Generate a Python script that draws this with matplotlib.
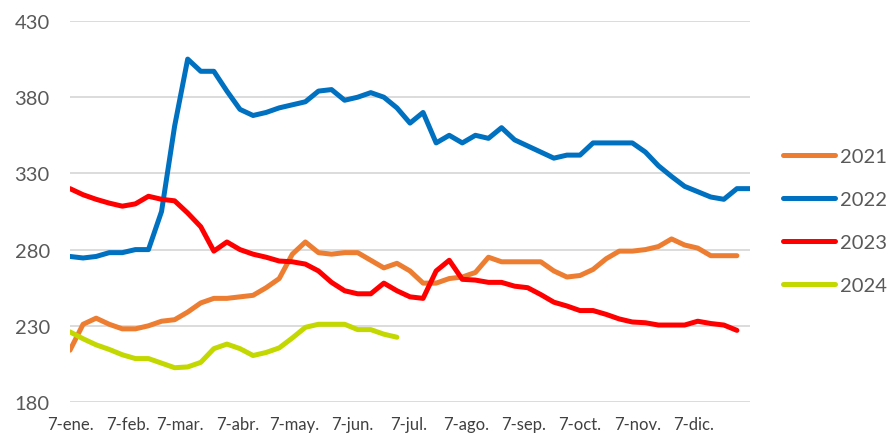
import matplotlib
matplotlib.use("Agg")
import matplotlib.pyplot as plt
import pandas as pd
import numpy as np

plt.rcParams['font.family'] = ['Lato', 'DejaVu Sans']

years = ['2021', '2022', '2023', '2024']
colors = ['#ED7D31', '#0070C0', '#FF0000', '#C3D800']

s2021 = [214, 231, 235, 231, 228, 228, 230, 233, 234, 239, 245, 248, 248, 249, 250, 255, 261,
         277, 285, 278, 277, 278, 278, 273, 268, 271, 266, 258, 258, 261, 262, 265, 275, 272,
         272, 272, 272, 266, 262, 263, 267, 274, 279, 279, 280, 282, 287, 283, 281, 276, 276, 276]
s2022 = [275.5, 274.5, 275.5, 278, 278, 280, 280, 305, 361, 405, 397, 397, 384, 372, 368, 370,
         373, 375, 377, 384, 385, 378, 380, 383, 380, 373, 363, 370, 350, 355, 350, 355, 353,
         360, 352, 348, 344, 340, 342, 342, 350, 350, 350, 350, 344, 335, 328, 321.5, 318, 314.5,
         313, 320, 320]
s2023 = [320, 316, 313, 310.5, 308.5, 310, 315, 313, 312, 304, 295, 279, 285, 280, 277, 275,
         272.5, 272, 270.5, 266, 258.5, 253, 251, 251, 258, 253, 249, 248, 266, 273, 260.5, 260,
         258.5, 258.5, 256, 255, 250.5, 245.5, 243, 240, 240, 237.5, 234.5, 232.5, 232, 230.5,
         230.5, 230.5, 233, 231.5, 230.5, 227]
s2024 = [226, 221.5, 217.5, 214.5, 211, 208.5, 208.5, 205.5, 202.5, 203, 206, 215, 218, 215,
         210.5, 212.5, 215.5, 222, 229, 231, 231, 231, 227.5, 227.5, 224.5, 222.5]
series = [s2021, s2022, s2023, s2024]

tick_labels = ['7-ene.', '7-feb.', '7-mar.', '7-abr.', '7-may.', '7-jun.', '7-jul.',
               '7-ago.', '7-sep.', '7-oct.', '7-nov.', '7-dic.']
ytick_values = [180, 230, 280, 330, 380, 430]

dates = pd.date_range('2021-01-07', periods=53, freq='7D')
tick_dates = pd.date_range('2021-01-01', periods=12, freq='MS') + pd.Timedelta(days=6)

fig = plt.figure(figsize=(8.93, 4.35), dpi=100)
ax = fig.add_axes([70/893, 1-403/435, 680/893, 381/435])

for name, vals, c in zip(years, series, colors):
    ax.plot(dates[:len(vals)], vals, color=c, lw=3.6, label=name,
            solid_joinstyle='round', solid_capstyle='round')

ax.set_ylim(180, 430)
ax.set_xlim(dates[0], dates[-1])
ax.set_yticks(ytick_values)
ax.set_xticks(tick_dates)
ax.set_xticklabels(tick_labels)
ax.grid(axis='y', color='#D9D9D9', lw=1.3)
ax.set_axisbelow(True)
for sp in ax.spines.values():
    sp.set_visible(False)
ax.tick_params(axis='y', length=0, pad=14.5, labelsize=14.5, labelcolor='#595959')
ax.tick_params(axis='x', length=0, pad=10, labelsize=12, labelcolor='#404040')

leg = ax.legend(loc='center left', bbox_to_anchor=(783/893, 1-222/435),
                bbox_transform=fig.transFigure, frameon=False, fontsize=14.5,
                handlelength=2.6, handletextpad=0.25, labelspacing=1.3,
                borderpad=0, borderaxespad=0)
for t in leg.get_texts():
    t.set_color('#595959')
for h in leg.get_lines():
    h.set_linewidth(3.6)

fig.savefig('out.png', dpi=100)
